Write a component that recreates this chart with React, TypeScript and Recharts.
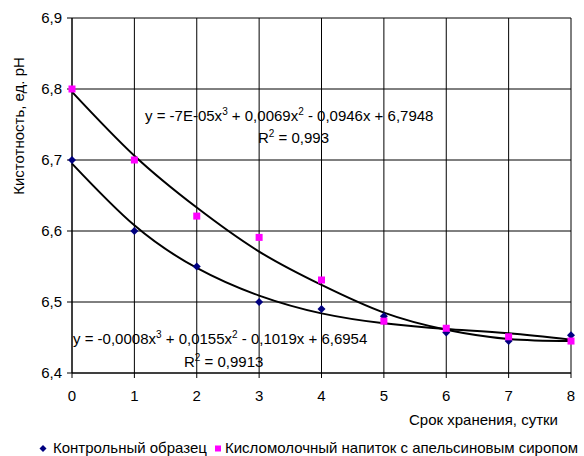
import React from 'react';
import {
  ComposedChart,
  Line,
  Scatter,
  XAxis,
  YAxis,
  CartesianGrid,
  Customized,
} from 'recharts';

const days = [0, 1, 2, 3, 4, 5, 6, 7, 8];
const controlValues = [6.7, 6.6, 6.55, 6.5, 6.49, 6.48, 6.457, 6.445, 6.453];
const syrupValues = [6.8, 6.7, 6.621, 6.591, 6.531, 6.473, 6.463, 6.451, 6.445];
// trend curves at each day
const controlTrend = [6.695, 6.608, 6.548, 6.509, 6.484, 6.47, 6.462, 6.456, 6.447];
const syrupTrend = [6.796, 6.706, 6.633, 6.571, 6.524, 6.485, 6.461, 6.448, 6.445];
const yTicks = [6.4, 6.5, 6.6, 6.7, 6.8, 6.9];

const controlName = 'Контрольный образец';
const syrupName = 'Кисломолочный напиток с апельсиновым сиропом';

const FONT = '"Liberation Sans", Arial, sans-serif';

const controlPoints = days.map((d, i) => ({ x: d, y: controlValues[i] }));
const syrupPoints = days.map((d, i) => ({ x: d, y: syrupValues[i] }));
const controlLine = days.map((d, i) => ({ x: d, y: controlTrend[i] }));
const syrupLine = days.map((d, i) => ({ x: d, y: syrupTrend[i] }));

const Diamond = (props: any) => {
  const { cx, cy } = props;
  const r = 4;
  return (
    <polygon
      points={`${cx},${cy - r} ${cx + r},${cy} ${cx},${cy + r} ${cx - r},${cy}`}
      fill="#000080"
    />
  );
};

const Square = (props: any) => {
  const { cx, cy } = props;
  return <rect x={cx - 3.5} y={cy - 3.5} width={7} height={7} fill="#ff00ff" />;
};

const Sup = ({ children }: { children: React.ReactNode }) => (
  <tspan dy={-6} fontSize={10}>
    {children}
  </tspan>
);

const Annotations = () => (
  <g fontFamily={FONT} fontSize={15} fill="#000">
    <text x={145} y={121}>
      <tspan>y = -7E-05x</tspan>
      <Sup>3</Sup>
      <tspan dy={6}> + 0,0069x</tspan>
      <Sup>2</Sup>
      <tspan dy={6}> - 0,0946x + 6,7948</tspan>
    </text>
    <text x={258} y={143}>
      <tspan>R</tspan>
      <Sup>2</Sup>
      <tspan dy={6}> = 0,993</tspan>
    </text>
    <text x={73} y={344}>
      <tspan>y = -0,0008x</tspan>
      <Sup>3</Sup>
      <tspan dy={6}> + 0,0155x</tspan>
      <Sup>2</Sup>
      <tspan dy={6}> - 0,1019x + 6,6954</tspan>
    </text>
    <text x={184} y={367}>
      <tspan>R</tspan>
      <Sup>2</Sup>
      <tspan dy={6}> = 0,9913</tspan>
    </text>
    <text x={558} y={425} textAnchor="end">
      Срок хранения, сутки
    </text>
    <text
      x={18}
      y={126}
      textAnchor="middle"
      dominantBaseline="central"
      transform="rotate(-90 18 126)"
    >
      Кистотность, ед. рН
    </text>
    <polygon points="43,445 46.5,448.5 43,452 39.5,448.5" fill="#000080" />
    <text x={53} y={452.5}>
      {controlName}
    </text>
    <rect x={215} y={445.5} width={6} height={6} fill="#ff00ff" />
    <text x={225} y={452.5}>
      {syrupName}
    </text>
  </g>
);

const fmt = (v: number) => v.toFixed(1).replace('.', ',');

export default function App() {
  return (
    <div style={{ position: 'absolute', left: 0, top: 0, width: 584, height: 456, background: '#fff' }}>
      <ComposedChart
        width={584}
        height={456}
        margin={{ top: 18, right: 13, bottom: 53, left: 10 }}
        style={{ fontFamily: FONT }}
      >
        <CartesianGrid stroke="#000" strokeWidth={1} />
        <XAxis
          type="number"
          dataKey="x"
          domain={[0, 8]}
          ticks={days}
          height={30}
          allowDuplicatedCategory={false}
          tick={{ fill: '#000', fontSize: 15, fontFamily: FONT }}
          tickSize={5}
          tickMargin={12}
          axisLine={{ stroke: '#000' }}
          tickLine={{ stroke: '#000' }}
        />
        <YAxis
          type="number"
          domain={[6.4, 6.9]}
          ticks={yTicks}
          width={62}
          tickFormatter={fmt}
          tick={{ fill: '#000', fontSize: 15, fontFamily: FONT }}
          tickSize={5}
          tickMargin={5}
          axisLine={{ stroke: '#000' }}
          tickLine={{ stroke: '#000' }}
        />
        <Line
          data={controlLine}
          dataKey="y"
          type="natural"
          stroke="#000"
          strokeWidth={2}
          dot={false}
          activeDot={false}
          isAnimationActive={false}
        />
        <Line
          data={syrupLine}
          dataKey="y"
          type="natural"
          stroke="#000"
          strokeWidth={2}
          dot={false}
          activeDot={false}
          isAnimationActive={false}
        />
        <Scatter
          name={controlName}
          data={controlPoints}
          dataKey="y"
          shape={<Diamond />}
          isAnimationActive={false}
        />
        <Scatter
          name={syrupName}
          data={syrupPoints}
          dataKey="y"
          shape={<Square />}
          isAnimationActive={false}
        />
        <Customized component={Annotations} />
      </ComposedChart>
    </div>
  );
}
